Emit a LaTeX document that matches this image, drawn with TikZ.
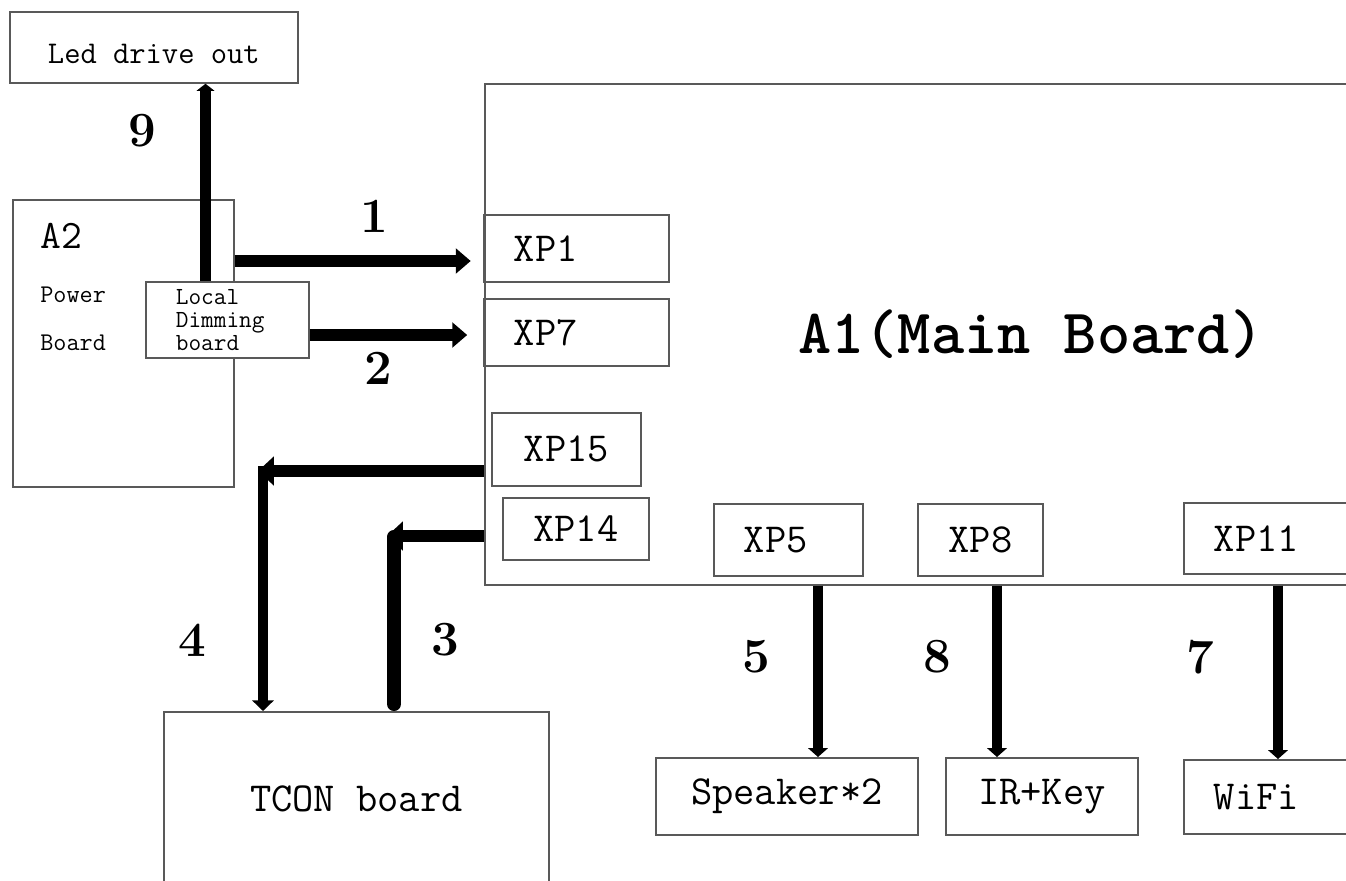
\documentclass[tikz,border=0pt]{standalone}
\usepackage{fontspec}
\usetikzlibrary{arrows.meta}

\begin{document}
\begin{tikzpicture}[x=0.02cm, y=-0.02cm,
  box/.style={draw=black!65, line width=1pt, anchor=north west, inner sep=0pt,
    font=\ttfamily\fontsize{23.5}{25}\selectfont},
  lbox/.style={box, align=left, inner xsep=0.6cm},
  num/.style={font=\fontsize{28}{30}\selectfont\bfseries},
  fat/.style={line width=6.5pt, -{Triangle[length=8.5pt, width=14pt]}},
  drop/.style={line width=5.5pt, -{Triangle[length=5pt, width=11pt]}}]
\useasboundingbox (0,0) rectangle (1346,880);
\clip (0,0) rectangle (1346,880);

% power side
\node[box, minimum width=5.76cm, text height=1.04cm, text depth=0.38cm,
  font=\ttfamily\fontsize{18}{20}\selectfont] (led) at (9,11) {Led drive out};
\node[box, minimum width=4.42cm, minimum height=5.74cm] (a2) at (12,199) {};
\node[anchor=base west, inner sep=0pt, font=\ttfamily\fontsize{23}{25}\selectfont] (a2name) at (40,248) {A2};
\node[anchor=base west, inner sep=0pt, font=\ttfamily\fontsize{14.5}{16}\selectfont] (pwr) at (40,302) {Power};
\node[anchor=base west, inner sep=0pt, font=\ttfamily\fontsize{14.5}{16}\selectfont] (brd) at (40,350) {Board};
\node[lbox, fill=white, text width=2.06cm, minimum height=1.52cm,
  font=\ttfamily\fontsize{14}{13.2}\selectfont] (ldim) at (145,281) {Local\\Dimming\\board};

% main board and its sockets
\node[box, minimum width=21.84cm, minimum height=10.02cm,
  font=\ttfamily\bfseries\fontsize{36}{38}\selectfont] (main) at (484,83) {A1(Main Board)};
\node[lbox, text width=2.5cm, minimum height=1.34cm] (xp1) at (483,214) {XP1};
\node[lbox, text width=2.5cm, minimum height=1.34cm] (xp7) at (483,298) {XP7};
\node[box, minimum width=2.98cm, minimum height=1.46cm] (xp15) at (491,412) {XP15};
\node[box, minimum width=2.92cm, minimum height=1.24cm] (xp14) at (502,497) {XP14};
\node[lbox, text width=1.78cm, minimum height=1.44cm] (xp5) at (713,503) {XP5};
\node[box, minimum width=2.5cm, minimum height=1.44cm] (xp8) at (917,503) {XP8};
\node[lbox, text width=3.8cm, minimum height=1.42cm] (xp11) at (1183,502) {XP11};

% peripherals
\node[box, minimum width=7.7cm, minimum height=3.48cm] (tcon) at (163,711) {TCON board};
\node[box, minimum width=5.24cm, minimum height=1.54cm] (spk) at (655,757) {Speaker*2};
\node[box, minimum width=3.84cm, minimum height=1.54cm] (irk) at (945,757) {IR+Key};
\node[lbox, text width=3.8cm, minimum height=1.48cm] (wifi) at (1183,759) {WiFi};

% bends and levels of the cables
\coordinate (y1) at (0,261);
\coordinate (y2) at (0,335);
\coordinate (x9) at (205.5,0);
\coordinate (c4) at (258,471);
\coordinate (c4v) at (263,466);
\coordinate (c3) at (387,536);
\coordinate (c3v) at (394,537);
\coordinate (x5) at (818,0);
\coordinate (x8) at (997,0);
\coordinate (x7) at (1278,0);

\draw[line width=6pt, -{Triangle[length=4pt, width=10pt]}] (x9 |- ldim.north) -- (x9 |- led.south);
\draw[fat, shorten >=7pt] (a2.east |- y1) -- (xp1.west |- y1);
\draw[fat, shorten >=9pt] (ldim.east |- y2) -- (xp7.west |- y2);
\draw[fat, -{Triangle[length=9pt, width=16pt]}] (main.west |- c4) -- (c4);
\draw[line width=5.5pt, -{Triangle[length=6pt, width=12pt]}] (c4v) -- (c4v |- tcon.north);
\draw[fat, -{Triangle[length=9pt, width=16pt]}] (main.west |- c3) -- (c3);
\draw[line width=8pt, line cap=round, shorten >=4pt] (c3v) -- (c3v |- tcon.north);
\draw[drop] (x5 |- main.south) -- (x5 |- spk.north);
\draw[drop] (x8 |- main.south) -- (x8 |- irk.north);
\draw[drop] (x7 |- main.south) -- (x7 |- wifi.north);

% cable numbers
\node[num] (n9) at (142,131) {9};
\node[num] (n1) at (374,216) {1};
\node[num] (n2) at (378,368) {2};
\node[num] (n4) at (192,640) {4};
\node[num] (n3) at (445,640) {3};
\node[num] (n5) at (756,657) {5};
\node[num] (n8) at (937,657) {8};
\node[num] (n7) at (1200,657) {7};
\end{tikzpicture}
\end{document}
